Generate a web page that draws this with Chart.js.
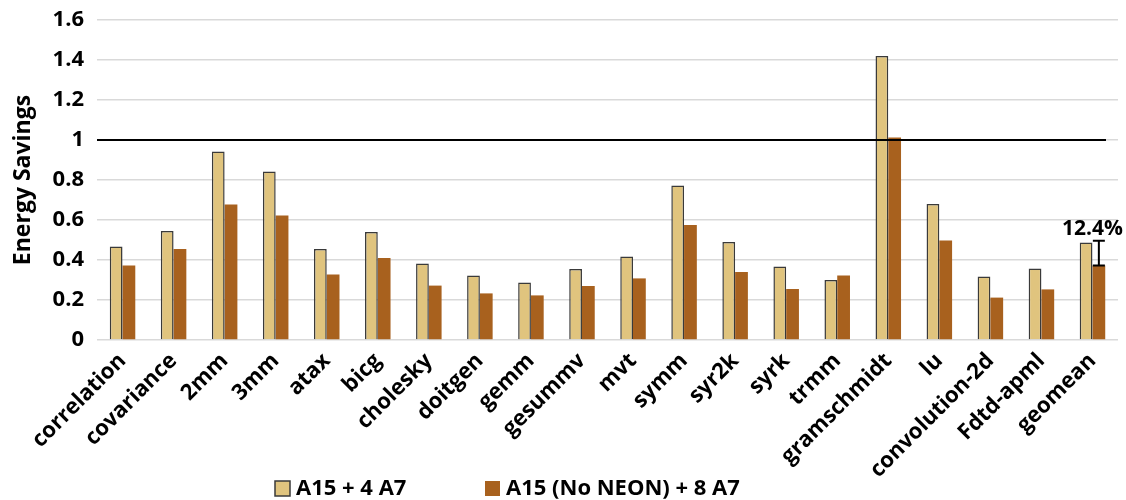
<!DOCTYPE html>
<html>
<head>
<meta charset="utf-8">
<script src="https://cdn.jsdelivr.net/npm/chart.js@4.4.1/dist/chart.umd.min.js"></script>
<style>
  html, body { margin: 0; padding: 0; background: #fff; }
  #wrap { width: 1126px; height: 500px; position: relative; }
</style>
</head>
<body>
<div id="wrap"><canvas id="c" width="1126" height="500"></canvas></div>
<script>
// Benchmarks on the x axis
const categories = ['correlation', 'covariance', '2mm', '3mm', 'atax', 'bicg', 'cholesky', 'doitgen', 'gemm', 'gesummv',
  'mvt', 'symm', 'syr2k', 'syrk', 'trmm', 'gramschmidt', 'lu', 'convolution-2d', 'Fdtd-apml', 'geomean'];

// Energy savings per configuration
const seriesNames = ['A15 + 4 A7', 'A15 (No NEON) + 8 A7'];
const a15Plus4A7 = [0.467, 0.545, 0.942, 0.842, 0.455, 0.54, 0.383, 0.322, 0.287, 0.355,
  0.418, 0.772, 0.49, 0.367, 0.30, 1.42, 0.68, 0.317, 0.358, 0.487];
const a15NoNeonPlus8A7 = [0.373, 0.455, 0.678, 0.623, 0.328, 0.41, 0.272, 0.233, 0.223, 0.27,
  0.308, 0.575, 0.34, 0.255, 0.322, 1.012, 0.498, 0.212, 0.253, 0.372];

// Y axis ticks
const yMin = 0, yMax = 1.6, yStep = 0.2;
// Reference level
const baseline = 1;
// Geomean gap annotation
const gapCategory = 'geomean';
const gapValue = 0.124;
const gapLabel = '12.4%';

const FONT = '"Open Sans", "Noto Sans", sans-serif';
const COLORS = { fillA: '#E0C47E', edgeA: '#3a3a3a', fillB: '#A8611E' };

const overlayPlugin = {
  id: 'overlay',
  afterDatasetsDraw(chart) {
    const { ctx, chartArea, scales } = chart;
    const y = scales.y;
    // baseline at 1.0, drawn over the bars
    const yb = y.getPixelForValue(baseline);
    ctx.save();
    ctx.strokeStyle = '#000';
    ctx.lineWidth = 2.2;
    ctx.beginPath();
    ctx.moveTo(chartArea.left, yb);
    ctx.lineTo(chartArea.right - 12, yb);
    ctx.stroke();

    // gap marker on the geomean second series
    const idx = categories.indexOf(gapCategory);
    const bar = chart.getDatasetMeta(1).data[idx];
    const low = a15NoNeonPlus8A7[idx];
    const high = low + gapValue;
    const x = bar.x;
    const y0 = y.getPixelForValue(low), y1 = y.getPixelForValue(high);
    ctx.lineWidth = 2;
    ctx.beginPath();
    ctx.moveTo(x, y0); ctx.lineTo(x, y1);
    ctx.moveTo(x - 6, y0); ctx.lineTo(x + 6, y0);
    ctx.moveTo(x - 6, y1); ctx.lineTo(x + 6, y1);
    ctx.stroke();

    const cx = chart.scales.x.getPixelForValue(idx);
    ctx.fillStyle = '#000';
    ctx.font = 'bold 21px ' + FONT;
    ctx.textAlign = 'center';
    ctx.textBaseline = 'alphabetic';
    ctx.fillText(gapLabel, cx, y1 - 6);
    ctx.restore();
  }
};

// legend row under the axis labels
const legendRow = {
  id: 'legendRow',
  afterDraw(chart) {
    const { ctx } = chart;
    const items = [
      { text: seriesNames[0], fill: COLORS.fillA, edge: COLORS.edgeA, x: 275 },
      { text: seriesNames[1], fill: COLORS.fillB, edge: null, x: 485 }
    ];
    const cy = 488;
    ctx.save();
    ctx.font = 'bold 22px ' + FONT;
    ctx.textBaseline = 'middle';
    ctx.textAlign = 'left';
    items.forEach(it => {
      ctx.fillStyle = it.fill;
      ctx.fillRect(it.x, cy - 7, 15, 15);
      if (it.edge) {
        ctx.strokeStyle = it.edge;
        ctx.lineWidth = 1.5;
        ctx.strokeRect(it.x, cy - 7, 15, 15);
      }
      ctx.fillStyle = '#000';
      ctx.fillText(it.text, it.x + 21, cy + 1);
    });
    ctx.restore();
  }
};

new Chart(document.getElementById('c'), {
  type: 'bar',
  data: {
    labels: categories,
    datasets: [
      {
        label: seriesNames[0],
        data: a15Plus4A7,
        backgroundColor: COLORS.fillA,
        borderColor: COLORS.edgeA,
        borderWidth: 1.5,
        barPercentage: 1,
        categoryPercentage: 0.5
      },
      {
        label: seriesNames[1],
        data: a15NoNeonPlus8A7,
        backgroundColor: COLORS.fillB,
        borderWidth: 0,
        barPercentage: 1,
        categoryPercentage: 0.5
      }
    ]
  },
  options: {
    responsive: false,
    animation: false,
    devicePixelRatio: 1,
    layout: { padding: { top: 20, right: 8, left: 0, bottom: 0 } },
    plugins: {
      legend: { display: false },
      tooltip: { enabled: false }
    },
    scales: {
      x: {
        grid: { display: false },
        border: { display: false },
        afterFit(scale) { scale.height = 160; scale.paddingTop = 0; },
        ticks: {
          color: '#000',
          font: { family: FONT, size: 22, weight: 'bold' },
          minRotation: 45,
          maxRotation: 45,
          autoSkip: false,
          padding: 0
        }
      },
      y: {
        min: yMin,
        max: yMax,
        border: { display: false },
        afterFit(scale) { scale.width = 97; scale.paddingTop = 0; },
        grid: { color: '#d9d9d9', lineWidth: 1.5, drawTicks: false },
        ticks: {
          stepSize: yStep,
          color: '#000',
          font: { family: FONT, size: 22, weight: 'bold' },
          padding: 13,
          callback: v => String(+Number(v).toFixed(1))
        },
        title: {
          display: true,
          text: 'Energy Savings',
          color: '#000',
          font: { family: FONT, size: 23, weight: 'bold' },
          padding: { top: 10, bottom: 0 }
        }
      }
    }
  },
  plugins: [overlayPlugin, legendRow]
});
</script>
</body>
</html>
